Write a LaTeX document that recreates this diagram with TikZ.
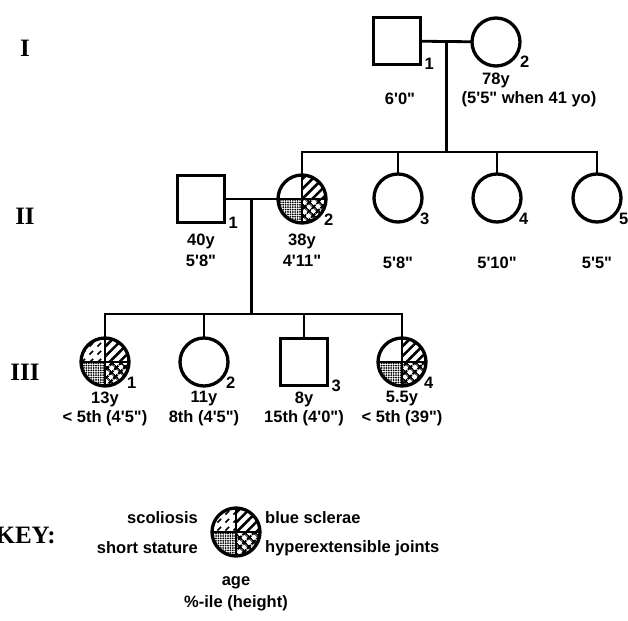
\documentclass[tikz,border=0pt]{standalone}
\usepackage{fontspec}
\setmainfont{Liberation Serif}
\newfontfamily\lab{Liberation Sans}[Ligatures=TeXOff]
\usetikzlibrary{patterns.meta,backgrounds,calc}

% broken diagonal strokes (scoliosis)
\tikzdeclarepattern{
  name=scoldash,
  type=uncolored,
  bottom left={(0pt,0pt)},
  top right={(8pt,8pt)},
  tile size={(8pt,8pt)},
  code={\draw[line width=1.8pt] (1.5pt,1.5pt) -- (5.5pt,5.5pt);}
}

\tikzset{
  male/.style={draw, line width=3.3pt, minimum size=47pt, inner sep=0pt, outer sep=0pt},
  female/.style={male, circle, minimum size=48pt},
  link/.style={line width=2.8pt},
  txt/.style={font=\lab\bfseries\fontsize{16.5}{20}\selectfont, inner sep=0pt},
  num/.style={txt, anchor=west},
  gen/.style={font=\bfseries\fontsize{25}{28}\selectfont, inner sep=0pt},
  scoli/.style={pattern=scoldash},
  sclera/.style={pattern={Lines[angle=45,distance=7pt,line width=2.6pt]}},
  stature/.style={pattern={Dots[distance=2.4pt,radius=1pt]}},
  joints/.style={pattern={Hatch[angle=45,distance=6.5pt,line width=2.4pt]}},
}

% one quarter of a circle: node, start angle, style
\newcommand{\qfill}[3]{%
  \fill[#3] (#1.center) -- ++(#2:24pt) arc[start angle=#2, delta angle=90, radius=24pt] -- cycle;}
% cross inside an affected circle
\newcommand{\qcross}[1]{%
  \draw[link] (#1.north) -- (#1.south) (#1.west) -- (#1.east);}

\begin{document}
\begin{tikzpicture}[x=1pt, y=1pt]
    \useasboundingbox (0,0) rectangle (628,-620);

    % generations
    \node[gen] (gI) at (25,-48) {I};
    \node[gen] (gII) at (25,-216) {II};
    \node[gen] (gIII) at (25,-372) {III};

    % I
    \node[male] (I1) at (397,-41) {};
    \node[female] (I2) at (496,-42) {};
    \node[num] at ([shift={(4pt,1pt)}]I1.south east) {1};
    \node[num] at ([shift={(7pt,-3pt)}]I2.south east) {2};
    \node[txt] (I1a) at (400,-99) {6'0"};
    \node[txt] (I2a) at (496,-80) {78y};
    \node[txt] (I2b) at (529,-99) {(5'5" when 41 yo)};

    % II
    \node[male] (II1) at (201,-199) {};
    \node[female] (II2) at (302,-199) {};
    \node[female] (II3) at (398,-198) {};
    \node[female] (II4) at (497,-198) {};
    \node[female] (II5) at (597,-198) {};
    \node[num] at ([shift={(4pt,0pt)}]II1.south east) {1};
    \node[num] at ([shift={(5pt,-4pt)}]II2.south east) {2};
    \node[num] at ([shift={(5pt,-4pt)}]II3.south east) {3};
    \node[num] at ([shift={(5pt,-4pt)}]II4.south east) {4};
    \node[num] at ([shift={(5pt,-4pt)}]II5.south east) {5};
    \node[txt] (II1a) at (201,-241) {40y};
    \node[txt] (II1b) at (201,-261) {5'8"};
    \node[txt] (II2a) at (302,-241) {38y};
    \node[txt] (II2b) at (302,-261) {4'11"};
    \node[txt] (II3b) at (398,-263) {5'8"};
    \node[txt] (II4b) at (497,-263) {5'10"};
    \node[txt] (II5b) at (597,-263) {5'5"};

    % III
    \node[female] (III1) at (105,-362) {};
    \node[female] (III2) at (204,-362) {};
    \node[male] (III3) at (304,-362) {};
    \node[female] (III4) at (402,-362) {};
    \node[num] at ([shift={(5pt,-4pt)}]III1.south east) {1};
    \node[num] at ([shift={(5pt,-4pt)}]III2.south east) {2};
    \node[num] at ([shift={(4pt,0pt)}]III3.south east) {3};
    \node[num] at ([shift={(5pt,-4pt)}]III4.south east) {4};
    \node[txt] (III1a) at (105,-399) {13y};
    \node[txt] (III1b) at (105,-418) {< 5th (4'5")};
    \node[txt] (III2a) at (204,-399) {11y};
    \node[txt] (III2b) at (204,-418) {8th (4'5")};
    \node[txt] (III3a) at (304,-399) {8y};
    \node[txt] (III3b) at (304,-418) {15th (4'0")};
    \node[txt] (III4a) at (402,-399) {5.5y};
    \node[txt] (III4b) at (402,-418) {< 5th (39")};

    % lines of descent
    \coordinate (mI) at ($(I1.east)!0.5!(I2.west)$);
    \coordinate (sII) at (mI |- 0,-152);
    \draw[link] (I1) -- (I2);
    \draw[link] (mI) -- (sII);
    \draw[link] (II2.north) |- (sII) -| (II5.north);
    \draw[link] (II3.north) -- (II3.north |- sII);
    \draw[link] (II4.north) -- (II4.north |- sII);

    \coordinate (mII) at ($(II1.east)!0.5!(II2.west)$);
    \coordinate (sIII) at (mII |- 0,-314);
    \draw[link] (II1) -- (II2);
    \draw[link] (mII) -- (sIII);
    \draw[link] (III1.north) |- (sIII) -| (III4.north);
    \draw[link] (III2.north) -- (III2.north |- sIII);
    \draw[link] (III3.north) -- (III3.north |- sIII);

    % key
    \node[gen, anchor=east] (keyt) at (56,-535) {KEY:};
    \node[female] (key) at (236,-532) {};
    \node[txt, anchor=east] (k1) at (198,-518) {scoliosis};
    \node[txt, anchor=west] (k2) at (265,-518) {blue sclerae};
    \node[txt, anchor=east] (k3) at (198,-548) {short stature};
    \node[txt, anchor=west] (k4) at (265,-548) {hyperextensible joints};
    \node[txt] (k5) at (236,-583) {age};
    \node[txt] (k6) at (236,-603) {\%-ile (height)};

    % affected quarters
    \begin{scope}[on background layer]
        \qfill{II2}{0}{sclera}
        \qfill{II2}{180}{stature}
        \qfill{II2}{270}{joints}
        \qfill{III1}{90}{scoli}
        \qfill{III1}{0}{sclera}
        \qfill{III1}{180}{stature}
        \qfill{III1}{270}{joints}
        \qfill{III4}{0}{sclera}
        \qfill{III4}{180}{stature}
        \qfill{III4}{270}{joints}
        \qfill{key}{90}{scoli}
        \qfill{key}{0}{sclera}
        \qfill{key}{180}{stature}
        \qfill{key}{270}{joints}
    \end{scope}
    \qcross{II2}
    \qcross{III1}
    \qcross{III4}
    \qcross{key}
\end{tikzpicture}
\end{document}
